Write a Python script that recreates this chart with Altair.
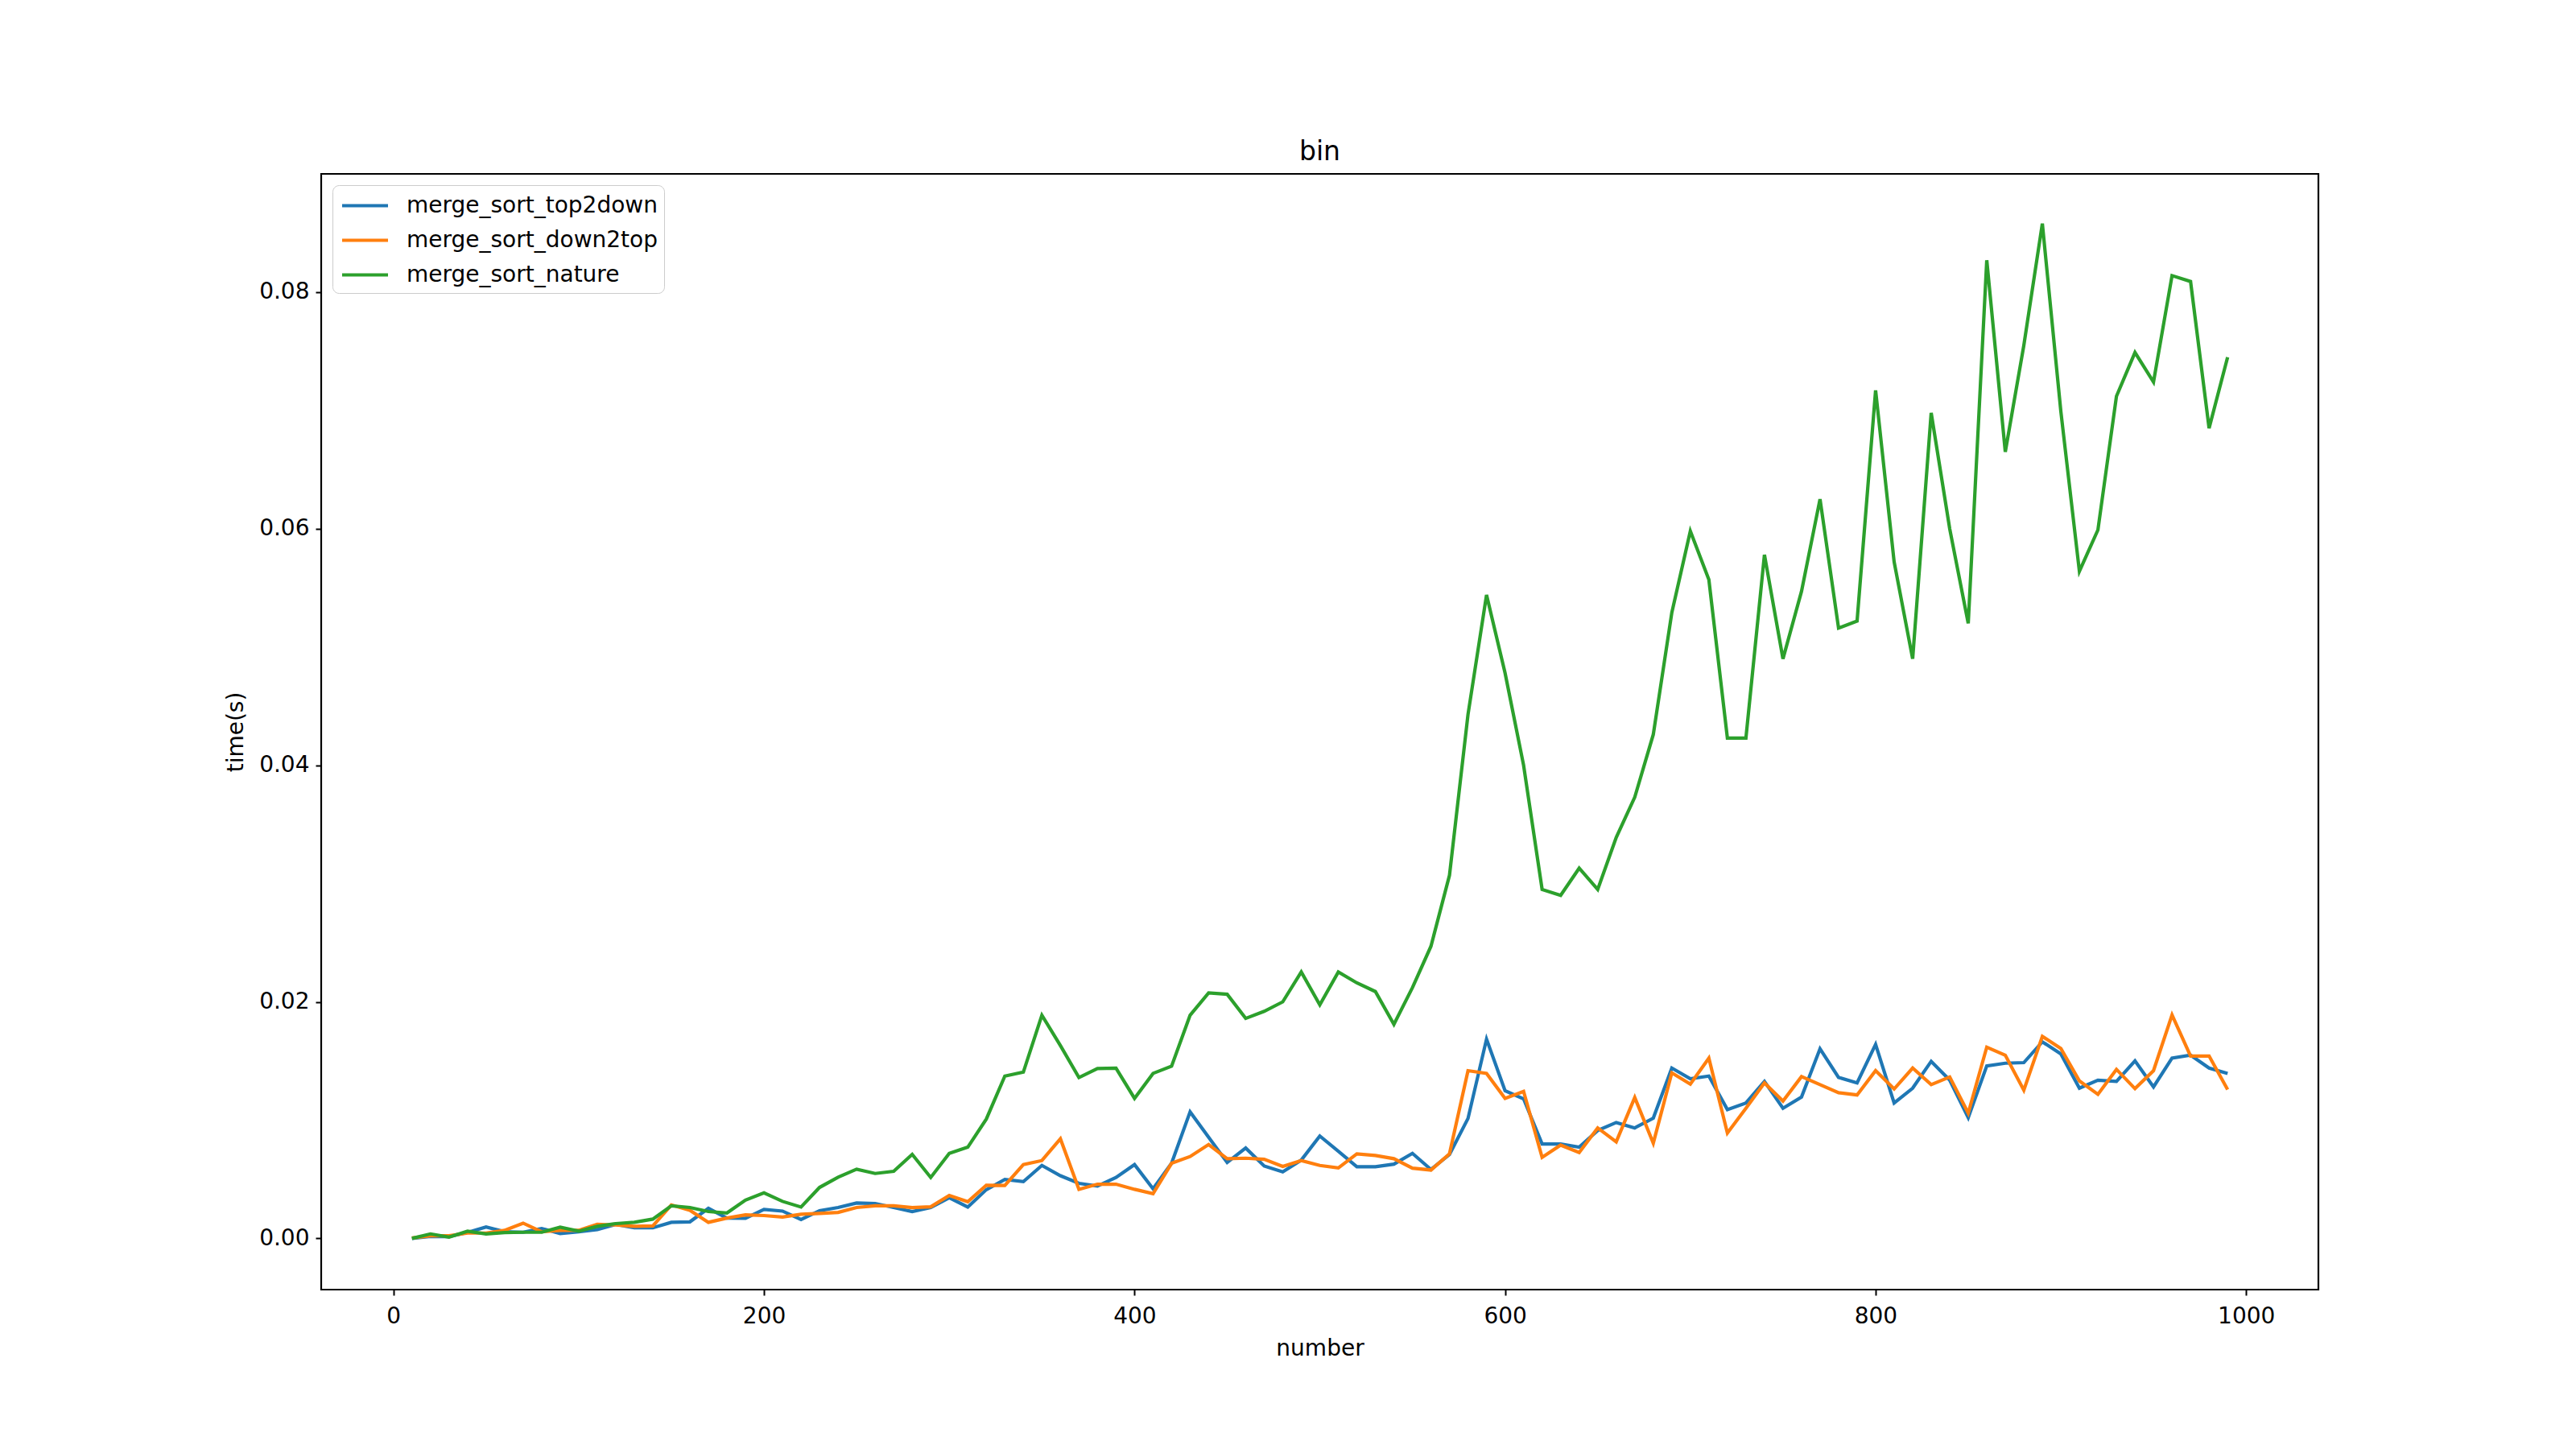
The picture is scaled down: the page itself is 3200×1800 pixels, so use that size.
import altair as alt
import pandas as pd

numbers = list(range(10, 1000, 10))

top2down = [
    0.0, 0.00016, 0.00016, 0.0005, 0.00097, 0.00056, 0.00052, 0.00084, 0.00041, 0.00056,
    0.00075, 0.00118, 0.0009, 0.0009, 0.00136, 0.0014, 0.00254, 0.00172, 0.0017, 0.00245,
    0.00231, 0.00159, 0.00234, 0.00261, 0.00299, 0.00295, 0.00261, 0.00227, 0.00261, 0.00344,
    0.00265, 0.00412, 0.00499, 0.0048, 0.00617, 0.0053, 0.00465, 0.00442, 0.00515, 0.00624,
    0.00419, 0.00635, 0.0107, 0.00855, 0.00642, 0.00764, 0.00612, 0.00562, 0.00662, 0.00866,
    0.00737, 0.00606, 0.00606, 0.00628, 0.00719, 0.00583, 0.0071, 0.01014, 0.01685, 0.01248,
    0.0118, 0.00798, 0.00798, 0.00771, 0.00912, 0.0098, 0.00934, 0.01016, 0.0144, 0.0135,
    0.01372, 0.01089, 0.01145, 0.01327, 0.011, 0.01195, 0.01603, 0.01361, 0.01315, 0.0164,
    0.01145, 0.0127, 0.01497, 0.01338, 0.01021, 0.01458, 0.01481, 0.01486, 0.01662, 0.0156,
    0.0127, 0.01338, 0.01327, 0.01501, 0.01281, 0.01524, 0.01549, 0.0144, 0.01395,
]

down2top = [
    0.00004, 0.00022, 0.00022, 0.00045, 0.00045, 0.00068, 0.00129, 0.00056, 0.00068, 0.00068,
    0.0012, 0.00113, 0.00102, 0.00106, 0.00283, 0.00238, 0.00136, 0.00172, 0.00199, 0.00193,
    0.00181, 0.00204, 0.00211, 0.0022, 0.00261, 0.00276, 0.00276, 0.00261, 0.00267, 0.00363,
    0.0031, 0.00449, 0.00447, 0.00624, 0.00658, 0.00842, 0.00414, 0.00458, 0.00458, 0.00415,
    0.00378, 0.00635, 0.00692, 0.00794, 0.00674, 0.00678, 0.00669, 0.00608, 0.00658, 0.00617,
    0.00596, 0.00715, 0.00701, 0.00674, 0.00594, 0.00578, 0.00715, 0.01418, 0.01395, 0.01184,
    0.01243, 0.00685, 0.00789, 0.00726, 0.00934, 0.00817, 0.01191, 0.00805, 0.01399, 0.01304,
    0.01524, 0.00891, 0.011, 0.01315, 0.01161, 0.01368, 0.0130, 0.01232, 0.01213, 0.01418,
    0.01263, 0.0144, 0.013, 0.01365, 0.01059, 0.01617, 0.01549, 0.01254, 0.01708, 0.01606,
    0.01331, 0.01218, 0.01429, 0.01266, 0.01418, 0.01889, 0.01542, 0.01542, 0.01259,
]

nature = [
    0.0, 0.00038, 0.00011, 0.00061, 0.00038, 0.0005, 0.00052, 0.00052, 0.00095, 0.00061,
    0.00102, 0.00125, 0.00136, 0.00163, 0.00276, 0.00261, 0.00227, 0.00215, 0.00324, 0.00385,
    0.00313, 0.00265, 0.00431, 0.00517, 0.00585, 0.00549, 0.00567, 0.0071, 0.00515, 0.00719,
    0.00771, 0.01009, 0.01372, 0.01406, 0.01887, 0.0163, 0.0136, 0.01436, 0.0144, 0.01184,
    0.01395, 0.01456, 0.01887, 0.02075, 0.02064, 0.0186, 0.0192, 0.02, 0.02252, 0.01975,
    0.02252, 0.0216, 0.02087, 0.0181, 0.0212, 0.0247, 0.0307, 0.0443, 0.0544, 0.0478,
    0.04, 0.0295, 0.029, 0.0313, 0.0295, 0.0339, 0.0373, 0.0426, 0.0529, 0.0598,
    0.0557, 0.0423, 0.0423, 0.0578, 0.049, 0.0547, 0.0625, 0.0516, 0.0522, 0.0717,
    0.0572, 0.049, 0.0698, 0.06, 0.052, 0.0827, 0.0665, 0.0755, 0.0858, 0.0699,
    0.0564, 0.0599, 0.0712, 0.0749, 0.0724, 0.0814, 0.0809, 0.0685, 0.0745,
]

series_names = ["merge_sort_top2down", "merge_sort_down2top", "merge_sort_nature"]
series_colors = ["#1f77b4", "#ff7f0e", "#2ca02c"]
x_ticks = [0, 200, 400, 600, 800, 1000]
y_ticks = [0.0, 0.02, 0.04, 0.06, 0.08]

rows = []
for name, vals in zip(series_names, [top2down, down2top, nature]):
    for n, v in zip(numbers, vals):
        rows.append({"number": n, "time": v, "series": name})
df = pd.DataFrame(rows)

FONT = "DejaVu Sans"

chart = alt.Chart(df).mark_line(strokeWidth=4.2, clip=True).encode(
    x=alt.X("number:Q",
            scale=alt.Scale(domain=[-39, 1039], nice=False, zero=False),
            axis=alt.Axis(title="number", values=x_ticks, format="d", grid=False,
                          domain=False, tickSize=7, tickWidth=2, tickColor="black",
                          labelFontSize=28, labelFont=FONT, labelColor="black",
                          labelPadding=12, titleFontSize=28, titleFont=FONT,
                          titleFontWeight="normal", titleColor="black", titlePadding=12)),
    y=alt.Y("time:Q",
            scale=alt.Scale(domain=[-0.00433, 0.0900], nice=False, zero=False),
            axis=alt.Axis(title="time(s)", values=y_ticks, format=".2f", grid=False,
                          domain=False, tickSize=7, tickWidth=2, tickColor="black",
                          labelFontSize=28, labelFont=FONT, labelColor="black",
                          labelPadding=8, titleFontSize=28, titleFont=FONT,
                          titleFontWeight="normal", titleColor="black", titlePadding=14)),
    color=alt.Color("series:N",
                    scale=alt.Scale(domain=series_names, range=series_colors),
                    legend=alt.Legend(title=None, orient="top-left", offset=14,
                                      symbolType="M-1.9,0H1.9", symbolStrokeWidth=4.2,
                                      symbolSize=900, symbolOffset=15,
                                      labelFontSize=28, labelFont=FONT,
                                      labelColor="black", labelOffset=34, labelLimit=0,
                                      padding=8, rowPadding=11, fillColor="white",
                                      strokeColor="#cccccc", cornerRadius=8)),
    detail="series:N",
).properties(
    width=2481,
    height=1386,
    background="white",
    title=alt.TitleParams("bin", fontSize=33, font=FONT, fontWeight="normal",
                          color="black", offset=10),
    autosize=alt.AutoSizeParams(type="none"),
    padding={"left": 399, "top": 216, "right": 320, "bottom": 198},
).configure_view(
    stroke="black", strokeWidth=2.2
)

chart.save("out.html", embed_options={"renderer": "svg", "actions": False})
